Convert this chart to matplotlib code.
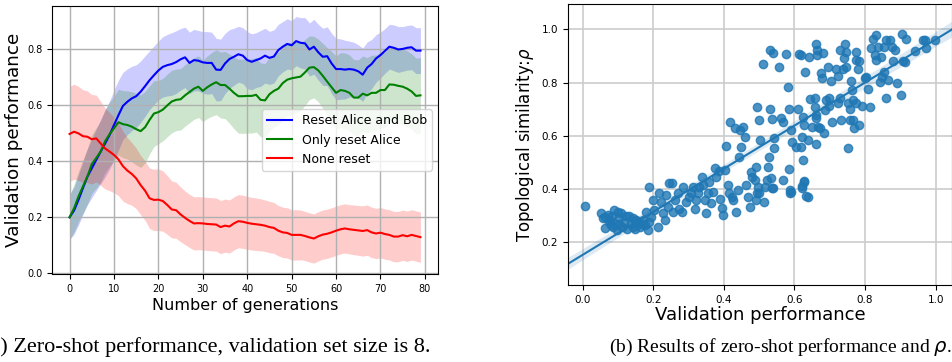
import numpy as np
import matplotlib
matplotlib.use("Agg")
import matplotlib.pyplot as plt
import seaborn as sns

# --- Daten links: Validierungsleistung pro Generation ---
generations = np.arange(80)

reset_both = [0.200, 0.224, 0.262, 0.304, 0.345, 0.375, 0.405, 0.435, 0.464, 0.494,
              0.530, 0.565, 0.598, 0.613, 0.625, 0.633, 0.649, 0.669, 0.690, 0.708,
              0.725, 0.738, 0.744, 0.748, 0.755, 0.765, 0.772, 0.752, 0.762, 0.760,
              0.754, 0.752, 0.752, 0.728, 0.727, 0.750, 0.766, 0.774, 0.783, 0.778,
              0.762, 0.756, 0.762, 0.768, 0.778, 0.770, 0.775, 0.798, 0.810, 0.820,
              0.815, 0.830, 0.824, 0.822, 0.800, 0.810, 0.790, 0.774, 0.776, 0.750,
              0.730, 0.730, 0.728, 0.730, 0.728, 0.722, 0.710, 0.735, 0.748, 0.768,
              0.780, 0.795, 0.810, 0.806, 0.800, 0.802, 0.806, 0.808, 0.796, 0.796]
reset_both_std = [0.080, 0.085, 0.090, 0.095, 0.100, 0.105, 0.110, 0.115, 0.120, 0.122,
                  0.125, 0.125, 0.120, 0.118, 0.115, 0.112, 0.110, 0.108, 0.105, 0.105,
                  0.105, 0.108, 0.110, 0.112, 0.112, 0.110, 0.108, 0.110, 0.110, 0.108,
                  0.110, 0.112, 0.110, 0.112, 0.110, 0.108, 0.105, 0.102, 0.100, 0.100,
                  0.102, 0.100, 0.098, 0.100, 0.098, 0.095, 0.095, 0.092, 0.090, 0.090,
                  0.088, 0.088, 0.090, 0.092, 0.095, 0.098, 0.100, 0.102, 0.105, 0.108,
                  0.110, 0.108, 0.105, 0.100, 0.098, 0.095, 0.095, 0.092, 0.088, 0.085,
                  0.082, 0.080, 0.080, 0.082, 0.082, 0.080, 0.080, 0.080, 0.082, 0.082]

reset_alice = [0.200, 0.232, 0.274, 0.310, 0.345, 0.390, 0.412, 0.435, 0.472, 0.497,
               0.518, 0.540, 0.533, 0.530, 0.524, 0.515, 0.508, 0.522, 0.548, 0.571,
               0.576, 0.585, 0.600, 0.614, 0.620, 0.622, 0.636, 0.648, 0.660, 0.667,
               0.652, 0.665, 0.675, 0.683, 0.673, 0.673, 0.660, 0.645, 0.633, 0.633,
               0.634, 0.634, 0.638, 0.620, 0.618, 0.640, 0.652, 0.660, 0.680, 0.692,
               0.697, 0.700, 0.703, 0.718, 0.735, 0.737, 0.725, 0.706, 0.685, 0.665,
               0.645, 0.655, 0.652, 0.645, 0.628, 0.628, 0.642, 0.636, 0.645, 0.645,
               0.655, 0.655, 0.675, 0.674, 0.670, 0.667, 0.660, 0.650, 0.634, 0.636]
reset_alice_std = [0.080, 0.085, 0.090, 0.095, 0.100, 0.105, 0.108, 0.110, 0.112, 0.115,
                   0.115, 0.118, 0.120, 0.122, 0.125, 0.128, 0.130, 0.128, 0.122, 0.118,
                   0.113, 0.112, 0.112, 0.112, 0.110, 0.110, 0.110, 0.110, 0.110, 0.110,
                   0.110, 0.112, 0.114, 0.116, 0.118, 0.120, 0.124, 0.128, 0.132, 0.133,
                   0.133, 0.133, 0.133, 0.132, 0.132, 0.132, 0.130, 0.130, 0.130, 0.130,
                   0.130, 0.126, 0.122, 0.118, 0.114, 0.110, 0.112, 0.116, 0.122, 0.128,
                   0.132, 0.134, 0.136, 0.136, 0.136, 0.135, 0.135, 0.135, 0.135, 0.135,
                   0.135, 0.135, 0.135, 0.135, 0.135, 0.135, 0.135, 0.135, 0.135, 0.135]

none_reset = [0.498, 0.506, 0.500, 0.490, 0.488, 0.479, 0.482, 0.464, 0.446, 0.435,
              0.423, 0.407, 0.383, 0.367, 0.355, 0.339, 0.315, 0.295, 0.268, 0.262,
              0.263, 0.258, 0.244, 0.228, 0.225, 0.210, 0.198, 0.187, 0.178, 0.179,
              0.178, 0.176, 0.175, 0.174, 0.165, 0.170, 0.167, 0.178, 0.186, 0.184,
              0.180, 0.177, 0.175, 0.173, 0.170, 0.165, 0.162, 0.152, 0.146, 0.144,
              0.137, 0.137, 0.137, 0.133, 0.128, 0.124, 0.132, 0.138, 0.141, 0.146,
              0.152, 0.157, 0.160, 0.157, 0.155, 0.153, 0.151, 0.154, 0.146, 0.142,
              0.145, 0.140, 0.137, 0.131, 0.131, 0.136, 0.132, 0.137, 0.133, 0.129]
none_reset_std = [0.170, 0.170, 0.168, 0.166, 0.164, 0.160, 0.155, 0.150, 0.145, 0.140,
                  0.135, 0.130, 0.125, 0.118, 0.112, 0.108, 0.106, 0.106, 0.108, 0.110,
                  0.110, 0.108, 0.105, 0.102, 0.100, 0.098, 0.096, 0.095, 0.095, 0.095,
                  0.095, 0.095, 0.095, 0.095, 0.095, 0.095, 0.095, 0.095, 0.095, 0.095,
                  0.095, 0.094, 0.094, 0.093, 0.092, 0.092, 0.091, 0.090, 0.090, 0.090,
                  0.090, 0.090, 0.089, 0.088, 0.088, 0.088, 0.088, 0.088, 0.088, 0.088,
                  0.088, 0.088, 0.088, 0.088, 0.089, 0.089, 0.090, 0.090, 0.090, 0.090,
                  0.090, 0.090, 0.090, 0.090, 0.090, 0.090, 0.090, 0.090, 0.090, 0.090]

# --- Daten rechts: Validierungsleistung vs. topologische Aehnlichkeit ---
val_perf = [0.008, 0.052, 0.059, 0.064, 0.071, 0.077, 0.083, 0.090, 0.093, 0.096,
            0.102, 0.109, 0.112, 0.118, 0.125, 0.132, 0.137, 0.144, 0.149, 0.156,
            0.163, 0.170, 0.177, 0.184, 0.189, 0.180, 0.187, 0.194, 0.064, 0.080,
            0.100, 0.123, 0.142, 0.151, 0.168, 0.104, 0.087, 0.074,
            0.198, 0.203, 0.213, 0.217, 0.222, 0.227, 0.232, 0.236, 0.241, 0.246,
            0.253, 0.255, 0.263, 0.270, 0.274, 0.282, 0.285, 0.293, 0.301, 0.307,
            0.312, 0.317, 0.321, 0.326, 0.331, 0.338, 0.342, 0.348, 0.350, 0.354,
            0.359, 0.364, 0.369, 0.374, 0.378, 0.386, 0.389, 0.395, 0.397, 0.402,
            0.406, 0.411, 0.414, 0.418, 0.423, 0.427, 0.433, 0.435, 0.439, 0.442,
            0.446, 0.449, 0.454, 0.459, 0.463, 0.468, 0.473, 0.477, 0.480, 0.487,
            0.490, 0.493, 0.496, 0.501, 0.491, 0.503, 0.515, 0.518, 0.522, 0.525,
            0.527, 0.531, 0.534, 0.537, 0.539, 0.543, 0.543, 0.556, 0.510, 0.493,
            0.499, 0.531, 0.537, 0.562, 0.569, 0.577, 0.583, 0.584, 0.585, 0.587,
            0.591, 0.567, 0.587, 0.605, 0.610, 0.613, 0.619, 0.619, 0.622, 0.624,
            0.624, 0.626, 0.622, 0.628, 0.631, 0.638, 0.638, 0.641, 0.643, 0.650,
            0.657, 0.660, 0.662, 0.663, 0.657, 0.660, 0.662, 0.663, 0.666, 0.671,
            0.676, 0.679, 0.681, 0.684, 0.686, 0.690, 0.695, 0.698, 0.699, 0.704,
            0.707, 0.718, 0.723, 0.723, 0.728, 0.728, 0.733, 0.737, 0.739, 0.742,
            0.745, 0.747, 0.751, 0.751, 0.756, 0.758, 0.760, 0.763, 0.765, 0.765,
            0.770, 0.773, 0.773, 0.775, 0.780, 0.783, 0.784, 0.792, 0.800, 0.803,
            0.808, 0.815, 0.818, 0.822, 0.827, 0.830, 0.832, 0.836, 0.841, 0.846,
            0.849, 0.853, 0.855, 0.858, 0.860, 0.865, 0.870, 0.875, 0.879, 0.885,
            0.890, 0.902, 0.905, 0.907, 0.915, 0.941, 0.969, 0.974, 0.997, 0.965,
            0.913, 0.538, 0.589, 0.622, 0.628, 0.634, 0.592]
topo_sim = [0.338, 0.311, 0.290, 0.253, 0.303, 0.284, 0.299, 0.321, 0.271, 0.246,
            0.290, 0.309, 0.259, 0.278, 0.249, 0.299, 0.271, 0.290, 0.249, 0.278,
            0.259, 0.284, 0.265, 0.246, 0.278, 0.315, 0.409, 0.296, 0.296, 0.265,
            0.315, 0.299, 0.259, 0.284, 0.268, 0.268, 0.259, 0.276,
            0.359, 0.321, 0.259, 0.384, 0.353, 0.309, 0.284, 0.378, 0.334, 0.422,
            0.425, 0.315, 0.359, 0.384, 0.324, 0.315, 0.409, 0.353, 0.372, 0.387,
            0.409, 0.324, 0.359, 0.384, 0.409, 0.447, 0.416, 0.359, 0.309, 0.384,
            0.428, 0.347, 0.391, 0.478, 0.447, 0.469, 0.362, 0.328, 0.303, 0.472,
            0.562, 0.416, 0.384, 0.653, 0.372, 0.359, 0.628, 0.315, 0.397, 0.522,
            0.622, 0.559, 0.634, 0.597, 0.416, 0.372, 0.334, 0.466, 0.447, 0.434,
            0.359, 0.384, 0.409, 0.387, 0.484, 0.584, 0.353, 0.409, 0.434, 0.484,
            0.522, 0.922, 0.441, 0.403, 0.910, 0.591, 0.553, 0.860, 0.872, 0.707,
            0.659, 0.703, 0.662, 0.666, 0.653, 0.907, 0.782, 0.703, 0.474, 0.397,
            0.622, 0.434, 0.387, 0.559, 0.703, 0.907, 0.903, 0.559, 0.597, 0.672,
            0.509, 0.428, 0.403, 0.641, 0.841, 0.584, 0.372, 0.897, 0.737, 0.634,
            0.709, 0.569, 0.947, 0.922, 0.741, 0.678, 0.666, 0.903, 0.634, 0.628,
            0.835, 0.816, 0.910, 0.612, 0.697, 0.734, 0.860, 0.741, 0.712, 0.807,
            0.653, 0.853, 0.825, 0.722, 0.741, 0.922, 0.660, 0.853, 0.891, 0.947,
            0.916, 0.860, 0.553, 0.722, 0.660, 0.703, 0.807, 0.772, 0.734, 0.660,
            0.628, 0.885, 0.916, 0.722, 0.853, 0.641, 0.883, 0.712, 0.819, 0.822,
            0.778, 0.709, 0.932, 0.966, 0.903, 0.979, 0.885, 0.935, 0.803, 0.897,
            0.822, 0.935, 0.841, 0.744, 0.960, 0.810, 0.960, 0.935, 0.881, 0.922,
            0.800, 0.753, 0.982, 0.883, 0.966, 0.920, 0.962, 0.929, 0.962, 0.960,
            0.879, 0.406, 0.390, 0.412, 0.432, 0.374, 0.578]

fig = plt.figure(figsize=(9.53, 3.62), dpi=100)

# linkes Diagramm
ax1 = fig.add_axes([0.0546, 0.243, 0.405, 0.740])
serien = [(reset_both, reset_both_std, "blue", "Reset Alice and Bob"),
          (reset_alice, reset_alice_std, "green", "Only reset Alice"),
          (none_reset, none_reset_std, "red", "None reset")]
for mittel, std, farbe, name in serien:
    mittel = np.array(mittel)
    std = np.array(std)
    ax1.fill_between(generations, mittel - std, mittel + std, color=farbe, alpha=0.2, lw=0)
    ax1.plot(generations, mittel, color=farbe, lw=1.5, label=name)

ax1.set_xlim(-3.95, 82.95)
ax1.set_ylim(-0.003, 0.955)
ax1.set_xticks(range(0, 81, 10))
ax1.set_yticks([0.0, 0.2, 0.4, 0.6, 0.8])
ax1.tick_params(labelsize=7)
ax1.grid(True, color="#b0b0b0", lw=1.0)
ax1.set_xlabel("Number of generations", fontsize=11.5, labelpad=3)
ax1.set_ylabel("Validation performance", fontsize=13.2, labelpad=3)
ax1.legend(loc="center right", fontsize=9)

# rechtes Diagramm
ax2 = fig.add_axes([0.596, 0.2127, 0.403, 0.775])
sns.regplot(x=np.array(val_perf), y=np.array(topo_sim), ax=ax2, truncate=False, seed=0,
            color="#1f77b4", scatter_kws={"s": 36, "alpha": 0.8},
            line_kws={"lw": 1.5})
ax2.set_ylim(0.04, 1.094)
ax2.set_xticks([0.0, 0.2, 0.4, 0.6, 0.8, 1.0])
ax2.set_yticks([0.2, 0.4, 0.6, 0.8, 1.0])
ax2.tick_params(labelsize=7.5)
ax2.grid(True, color="#cccccc", lw=1.2)
ax2.set_axisbelow(True)
ax2.set_xlabel("Validation performance", fontsize=13, labelpad=1)
ax2.set_ylabel("Topological similarity:$\\rho$", fontsize=12, labelpad=4)

# Bildunterschriften
fig.text(-0.018, 0.04, "(a) Zero-shot performance, validation set size is 8.",
         family="Liberation Serif", fontsize=16, va="center")
fig.text(0.639, 0.04, "(b) Results of zero-shot performance and $\\rho$.",
         family="Liberation Serif", fontsize=14, va="center")

fig.savefig("out.png", dpi=100)
